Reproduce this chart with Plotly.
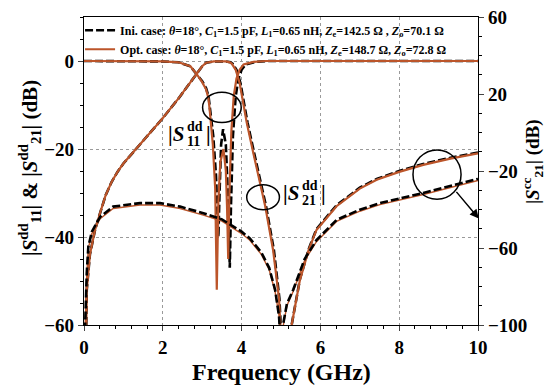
import plotly.graph_objects as go

# ---------------- data ----------------
# |S11dd| (left axis, dB)
f_s11_opt = [0, 1, 2, 2.4, 2.7, 2.86, 3.0, 3.1, 3.16, 3.2, 3.27, 3.33, 3.37, 3.41, 3.46, 3.54, 3.6, 3.63, 3.66,
             3.69, 3.74, 3.8, 3.87, 3.95, 4.05, 4.3, 4.6, 6, 8, 10]
s11_opt = [0, 0, -0.1, -0.3, -1.2, -3.0, -4.8, -6.5, -8.5, -12, -19, -29, -52, -32, -23, -20, -25, -33, -45,
           -30, -16, -8, -4, -2, -0.8, -0.2, 0, 0, 0, 0]
f_s11_ini = [0, 1, 2, 2.4, 2.7, 2.86, 3.0, 3.1, 3.16, 3.2, 3.28, 3.35, 3.41, 3.44, 3.48, 3.53, 3.6, 3.66,
             3.7, 3.73, 3.78, 3.85, 3.92, 4.0, 4.1, 4.35, 4.7, 6, 8, 10]
s11_ini = [0, 0, -0.1, -0.3, -1.2, -3.0, -4.6, -6.2, -8.0, -11, -17, -26, -40, -30, -19, -15.5, -19, -32,
           -47, -33, -17, -8, -4, -2, -0.8, -0.2, 0, 0, 0, 0]

# |S21dd| (left axis, dB)
f_s21_opt = [0, 0.07, 0.15, 0.28, 0.41, 0.55, 0.7, 0.85, 1.0, 1.5, 1.97, 2.4, 2.6, 2.82, 3.0, 3.1, 3.3, 3.6,
             3.7, 3.75, 3.85, 3.95, 4.05, 4.13, 4.3, 4.47, 4.6, 4.8, 4.95, 5.1, 5.27, 5.48, 5.7, 5.9, 6.41,
             7.0, 7.43, 8.0, 8.61, 9.3, 10]
s21_opt = [-100, -52, -44, -38.4, -34.5, -30.5, -27.5, -25.2, -23.3, -18.2, -13.3, -8.5, -6, -3.4, -1.2, -0.4,
           -0.1, -0.1, -0.3, -0.6, -2, -5, -10, -14, -21, -27.5, -33, -43, -54, -80, -60, -49.8, -43, -38.4,
           -33, -29, -27, -25.2, -23.6, -22.2, -21]
f_s21_ini = [0, 0.07, 0.15, 0.28, 0.41, 0.55, 0.7, 0.85, 1.0, 1.5, 1.97, 2.4, 2.6, 2.82, 3.0, 3.1, 3.3, 3.6,
             3.72, 3.77, 3.87, 3.97, 4.07, 4.15, 4.32, 4.49, 4.62, 4.82, 4.96, 5.1, 5.27, 5.48, 5.7, 5.9, 6.41,
             7.0, 7.43, 8.0, 8.61, 9.3, 10]
s21_ini = [-100, -52, -44, -38.4, -34.5, -30.5, -27.5, -25.2, -23.3, -18.2, -13.3, -8.5, -6, -3.4, -1.2, -0.4,
           -0.1, -0.1, -0.3, -0.6, -2, -5, -10, -14, -21, -27.5, -33, -43, -54, -80, -60, -49.6, -42.8, -38.2,
           -32.8, -28.8, -26.8, -25.0, -23.4, -22.0, -20.8]

# |S21cc| (right axis, dB)
f_cc_opt = [0, 0.03, 0.07, 0.11, 0.2, 0.41, 0.74, 1.42, 1.93, 2.44, 3.03, 3.5, 4.0, 4.21, 4.5, 4.7, 4.85,
            4.95, 5.02, 5.06, 5.15, 5.31, 5.6, 5.9, 6.41, 7.0, 7.51, 8.61, 10]
cc_opt = [-160, -100, -74, -60, -52.5, -44.8, -39.5, -37.7, -37.7, -39.5, -42.9, -46, -52.5, -56, -63.3,
          -71.3, -82.7, -95, -120, -100, -90, -82.5, -66.5, -56.7, -46.2, -40.9, -37.5, -32.2, -24.9]
f_cc_ini = [0, 0.03, 0.07, 0.11, 0.2, 0.41, 0.74, 1.42, 1.93, 2.44, 3.03, 3.5, 4.0, 4.21, 4.5, 4.7, 4.85,
            4.95, 5.02, 5.06, 5.15, 5.31, 5.6, 5.9, 6.41, 7.0, 7.51, 8.61, 10]
cc_ini = [-160, -100, -73, -59.3, -51.5, -43.8, -38.5, -36.7, -36.7, -38.5, -41.9, -45.1, -51.5, -55, -62.3,
          -70.3, -81.7, -95.4, -120, -99, -89, -81.7, -65.7, -55.9, -45.4, -40.1, -36.7, -31.4, -24.1]

legend_ini = ("Ini. case: <i>θ</i>=18°, <i>C</i><sub>1</sub>=1.5 pF, <i>L</i><sub>1</sub>=0.65 nH, "
              "<i>Z</i><sub>e</sub>=142.5 Ω , <i>Z</i><sub>o</sub>=70.1 Ω")
legend_opt = ("Opt. case: <i>θ</i>=18°, <i>C</i><sub>1</sub>=1.5 pF, <i>L</i><sub>1</sub>=0.65 nH, "
              "<i>Z</i><sub>e</sub>=148.7 Ω, <i>Z</i><sub>o</sub>=72.8 Ω")

x_ticks = [0, 2, 4, 6, 8, 10]
y_left_ticks = [-60, -40, -20, 0]
y_right_ticks = [-100, -60, -20, 20, 60]

# ---------------- styles ----------------
FONT = "Liberation Serif"
BROWN = "#BC552A"
DASH = "8px,3px"

fig = go.Figure()

# initial-case differential traces (dashed) underneath
fig.add_trace(go.Scatter(x=f_s11_ini, y=s11_ini, mode="lines", line=dict(color="black", width=2.6, dash=DASH),
                         name=legend_ini, legendgroup="ini", showlegend=True, legendrank=1))
fig.add_trace(go.Scatter(x=f_s21_ini, y=s21_ini, mode="lines", line=dict(color="black", width=2.6, dash=DASH),
                         name=legend_ini, legendgroup="ini", showlegend=False))
# optimised-case differential traces (solid) on top
fig.add_trace(go.Scatter(x=f_s11_opt, y=s11_opt, mode="lines", line=dict(color=BROWN, width=2.2),
                         name=legend_opt, legendgroup="opt", showlegend=True, legendrank=2))
fig.add_trace(go.Scatter(x=f_s21_opt, y=s21_opt, mode="lines", line=dict(color=BROWN, width=2.2),
                         name=legend_opt, legendgroup="opt", showlegend=False))
# common-mode on right axis: thin solid under dashed
fig.add_trace(go.Scatter(x=f_cc_opt, y=cc_opt, mode="lines", line=dict(color=BROWN, width=1.4),
                         name=legend_opt, legendgroup="opt", showlegend=False, yaxis="y2"))
fig.add_trace(go.Scatter(x=f_cc_ini, y=cc_ini, mode="lines", line=dict(color="black", width=2.6, dash=DASH),
                         name=legend_ini, legendgroup="ini", showlegend=False, yaxis="y2"))

tickfont = dict(family=FONT, size=19, color="black", weight="bold")
lab_main = dict(family=FONT, size=21, color="black", weight="bold")
lab_small = dict(family=FONT, size=14, color="black", weight="bold")


def stacked_label(x, y, sup, sub):
    """|S^sup_sub| with stacked super/subscript, anchored at (x, y) in data units."""
    return [
        dict(x=x, y=y, xref="x", yref="y", xanchor="right", yanchor="middle", showarrow=False,
             text="|<i>S</i>", font=lab_main, xshift=1),
        dict(x=x, y=y, xref="x", yref="y", xanchor="left", yanchor="middle", showarrow=False,
             text=sup, font=lab_small, yshift=8),
        dict(x=x, y=y, xref="x", yref="y", xanchor="left", yanchor="middle", showarrow=False,
             text=sub, font=lab_small, yshift=-7),
        dict(x=x, y=y, xref="x", yref="y", xanchor="left", yanchor="middle", showarrow=False,
             text="|", font=lab_main, xshift=19),
    ]


annotations = []
annotations += stacked_label(2.56, -16.7, "dd", "11")
annotations += stacked_label(5.48, -30.0, "dd", "21")
annotations += [
    dict(x=10.02, y=-35.8, ax=9.42, ay=-29.4, xref="x", yref="y", axref="x", ayref="y",
         text="", showarrow=True, arrowhead=2, arrowsize=1.2, arrowwidth=1.5, arrowcolor="black"),
    # axis titles
    dict(x=-0.137, y=0.51, xref="paper", yref="paper", xanchor="center", yanchor="middle", showarrow=False,
         textangle=-90, font=dict(family=FONT, size=21, color="black", weight="bold"),
         text="|<i>S</i><sup>dd</sup><sub>11</sub>| &amp; |<i>S</i><sup>dd</sup><sub>21</sub>| (dB)"),
    dict(x=1.137, y=0.532, xref="paper", yref="paper", xanchor="center", yanchor="middle", showarrow=False,
         textangle=-90, font=dict(family=FONT, size=19, color="black", weight="bold"),
         text="|<i>S</i><sup>cc</sup><sub>21</sub>| (dB)"),
    dict(x=0.5, y=-0.153, xref="paper", yref="paper", xanchor="center", yanchor="middle", showarrow=False,
         font=dict(family=FONT, size=24, color="black", weight="bold"), text="Frequency (GHz)"),
]

fig.update_layout(
    width=550, height=385,
    margin=dict(l=84, r=72, t=17, b=60, autoexpand=False),
    paper_bgcolor="white", plot_bgcolor="white",
    font=dict(family=FONT, color="black"),
    showlegend=True,
    legend=dict(x=-0.01, y=1.004, xanchor="left", yanchor="top", bgcolor="rgba(0,0,0,0)",
                font=dict(family=FONT, size=12, color="black", weight="bold"),
                tracegroupgap=0, itemwidth=30, traceorder="normal"),
    xaxis=dict(range=[0, 10], tickvals=x_ticks, ticks="outside", ticklen=5, tickwidth=1.2,
               showline=True, linecolor="black", linewidth=1.2, mirror=True, automargin=False,
               showgrid=True, gridcolor="#9a9a9a", griddash="dot", gridwidth=1, zeroline=False,
               minor=dict(dtick=0.4, ticks="outside", ticklen=3, tickcolor="black", showgrid=False),
               tickfont=tickfont),
    yaxis=dict(range=[-60, 10], tickvals=y_left_ticks, ticks="outside", ticklen=5, tickwidth=1.2,
               showline=True, linecolor="black", linewidth=1.2, automargin=False,
               showgrid=True, gridcolor="#9a9a9a", griddash="dot", gridwidth=1, zeroline=False,
               minor=dict(dtick=5, ticks="outside", ticklen=3, tickcolor="black", showgrid=False),
               tickfont=tickfont),
    yaxis2=dict(range=[-100, 60], tickvals=y_right_ticks, overlaying="y", side="right",
                ticks="outside", ticklen=5, tickwidth=1.2, automargin=False,
                showline=True, linecolor="black", linewidth=1.2, showgrid=False, zeroline=False,
                minor=dict(dtick=10, ticks="outside", ticklen=3, tickcolor="black", showgrid=False),
                tickfont=tickfont),
    shapes=[
        dict(type="circle", xref="x", yref="y", x0=3.01, x1=3.99, y0=-14.0, y1=-7.1,
             line=dict(color="black", width=1.5)),
        dict(type="circle", xref="x", yref="y", x0=4.13, x1=4.96, y0=-33.8, y1=-28.1,
             line=dict(color="black", width=1.5)),
        dict(type="circle", xref="x", yref="y", x0=8.35, x1=9.57, y0=-31.4, y1=-20.2,
             line=dict(color="black", width=1.5)),
    ],
    annotations=annotations,
)

fig.write_html("out.html", post_script="document.body.style.margin='0';",
               config={"displayModeBar": False})
